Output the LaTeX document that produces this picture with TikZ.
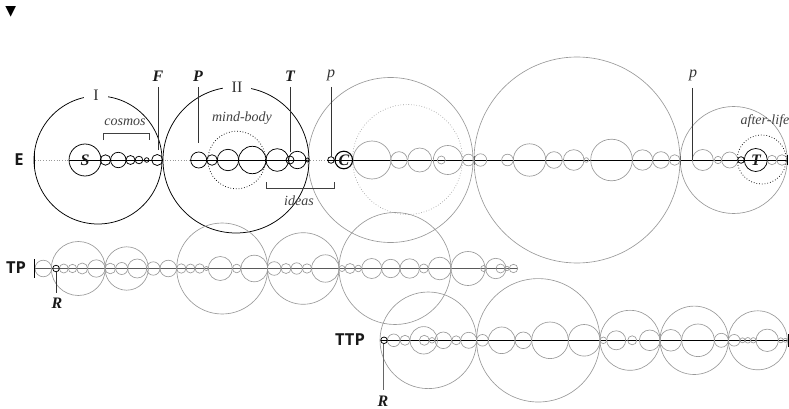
\documentclass[tikz,border=0pt]{standalone}
\usepackage{fontspec}
\setmainfont{Liberation Serif}
\newfontfamily\labsans{Open Sans}
\newfontfamily\symfont{DejaVu Sans}
\tikzset{
  blk/.style={draw=black, line width=0.75pt},
  gry/.style={draw=black!40, line width=0.65pt},
  rowlab/.style={font=\labsans\bfseries\fontsize{16.5}{16.5}\selectfont, text=black!90, inner sep=0pt},
  bilab/.style={font=\bfseries\itshape\fontsize{16}{16}\selectfont, text=black!90, inner sep=0pt},
  itlab/.style={font=\itshape\fontsize{14}{14}\selectfont, text=black!75, inner sep=0pt},
  romlab/.style={font=\fontsize{16}{16}\selectfont, text=black!80, fill=white, inner xsep=9pt, inner ysep=2pt},
  pin/.style={draw=black!80, line width=0.65pt},
}
\begin{document}
\begin{tikzpicture}[x=1pt,y=-1pt]
\useasboundingbox (0,0) rectangle (789,409);
% ---------- marker
\node[font=\symfont\fontsize{14}{14}\selectfont, inner sep=0pt] (tri) at (10.7,11.5) {▼};
% ================= E row (y=160)
\draw[draw=black!40, line width=0.7pt, dotted] (35,160) -- (787,160);
\draw[black, line width=0.75pt] (69,160) -- (163,160) (190,160) -- (309,160) (327,160) -- (787,160);
% gray circles
\foreach \x/\r in {390.5/82.5, 577/103, 733.7/53.5, 372/19, 399/8.3, 419.7/12, 441.3/4, 447.8/14.5, 468.5/5.8, 480.5/6.2, 507.5/5.8, 529.5/16.2, 554/8.3, 573.7/10.3, 586.3/2.3, 611.5/20.8, 642.5/10.2, 661/8.3, 674.7/5.3, 702.8/10.5, 718/3.7, 729.7/8, 772/4.7, 782/5.3}
  \draw[gry] (\x,160) circle (\r pt);
\draw[gry, dotted] (407.5,159.5) circle (55pt);
% black circles
\foreach \x/\r in {98/64, 236/73, 85/16, 105.5/5.2, 118.3/7.7, 130.5/4.5, 139/3.8, 146.7/2.3, 157.2/5.5, 198.7/8, 212/5.3, 228/10.7, 252.3/13.7, 277.3/11.3, 290/4, 297.3/8.7, 307.3/2, 331/3.3, 741/3.3, 755.8/11.5}
  \draw[blk] (\x,160) circle (\r pt);
\draw[black, line width=1.1pt] (343.8,160) circle (8.8pt);
\draw[black, line width=0.75pt, dotted] (236.7,160) circle (28.8pt);
\draw[black, line width=0.75pt, dotted] (761.7,159.5) circle (24.5pt);
% ticks
\draw[black, line width=1pt] (34.5,151) -- (34.5,169);
\draw[black, line width=0.8pt] (787,155) -- (787,165);
\draw[black!60, line width=0.8pt] (474,155.5) -- (474,164.5) (680,155.5) -- (680,164.5);
% labels
\node[rowlab] (E) at (19,160) {E};
\node[romlab] (I) at (96,95) {I};
\node[romlab] (II) at (237,87) {II};
\node[bilab] (S) at (85,160.5) {S};
\node[bilab] (C) at (344,160.5) {C};
\node[bilab] (T2) at (756,160.5) {T};
\node[bilab] (F) at (158,76) {F};
\node[bilab] (P) at (198,76) {P};
\node[bilab] (T) at (290,76) {T};
\node[itlab, text=black!80, font=\itshape\fontsize{16}{16}\selectfont] (p1) at (331,75) {p};
\node[itlab, text=black!80, font=\itshape\fontsize{16}{16}\selectfont] (p2) at (693,75) {p};
\coordinate (Fend) at (158,150);
\coordinate (Pend) at (198,143);
\coordinate (Tend) at (290,152);
\coordinate (p1end) at (331,156.7);
\coordinate (p2end) at (692.3,160);
\draw[pin] (158,87) -- (Fend);
\draw[pin] (198,87) -- (Pend);
\draw[pin] (290,87) -- (Tend);
\draw[pin] (331,87) -- (p1end);
\draw[pin] (692.3,88) -- (p2end);
\node[itlab] (cosmos) at (125,122) {cosmos};
\coordinate (cb1) at (103,140);
\coordinate (cb2) at (149,140);
\draw[pin, black!75] (cb1) -- ++(0,-7) -| (cb2);
\node[itlab] (mind) at (242,118) {mind-body};
\coordinate (ib1) at (266,182);
\coordinate (ib2) at (334,182);
\draw[pin, black!75] (ib1) -- ++(0,6) -| (ib2);
\node[itlab] (ideas) at (299,201) {ideas};
\node[itlab] (after) at (765,121) {after-life};
% ================= TP row (y=268.5)
\draw[black!65, line width=1pt] (34,268.5) -- (517.7,268.5);
\foreach \x/\r in {78.3/27, 126.7/21.7, 222.2/45.5, 303.2/35.8, 395/56, 43.3/8.3, 63.8/4.5, 72.5/4.2, 82.2/5.5, 96.3/8.7, 110.3/5.3, 121.7/6, 137.2/9.5, 153.3/6.7, 168.3/8.3, 181.3/4.7, 190.5/4.5, 199.7/4.7, 206.3/2, 220.3/12, 236.7/4.3, 254.3/13.3, 274.2/6.8, 286/5, 296.7/5.7, 307/4.7, 325.3/13.7, 342/3, 350/5, 358.3/3.3, 371.7/10, 390.8/9.2, 409.7/9.7, 423.8/4.5, 439.7/11.3, 468/17, 483.7/3, 495.8/10.2, 500.5/4.5, 507/2.2, 513.5/4.2}
  \draw[gry] (\x,268.5) circle (\r pt);
\draw[blk] (56,268.5) circle (3.3pt);
\draw[black, line width=1pt] (34,259) -- (34,278);
\node[rowlab] (TP) at (16,268) {TP};
\node[bilab] (R1) at (57,303) {R};
\coordinate (R1top) at (56,271.8);
\draw[pin] (R1top) -- (56,293);
% ================= TTP row (y=340.3)
\draw[black, line width=0.75pt] (380.7,340.3) -- (788,340.3);
\foreach \x/\r in {428.3/48.3, 538.3/61.7, 630/30, 694.2/34.2, 757.8/29.5, 393.7/6.3, 405/5, 423.7/13.7, 424.3/5, 432/2.8, 443.3/8.3, 456.2/4.5, 468.7/8, 482.5/5.8, 501.7/13.3, 523.3/8.3, 550/18.3, 584.2/15.8, 603.3/3.3, 616.2/9.5, 632.2/4.5, 649.7/10.3, 670.8/10.8, 698/16.3, 721.3/7, 734.2/5.8, 742.5/2.5, 747.8/2.8, 753.3/2.7, 767.2/11.2, 780.8/2.5, 785.3/2}
  \draw[gry] (\x,340.3) circle (\r pt);
\draw[blk] (384,340.3) circle (3.3pt);
\draw[black, line width=0.8pt] (788,334) -- (788,347);
\node[rowlab] (TTP) at (350,340) {TTP};
\node[bilab] (R2) at (383,401.5) {R};
\coordinate (R2top) at (383.3,343.6);
\draw[pin, black!60] (R2top) -- (383.3,390);
\end{tikzpicture}
\end{document}
